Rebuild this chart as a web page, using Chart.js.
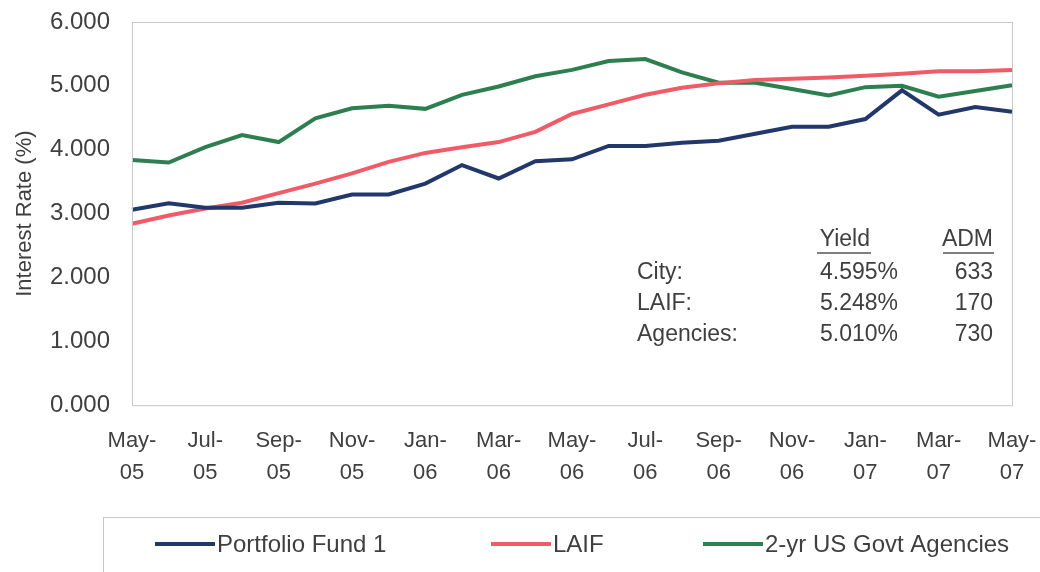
<!DOCTYPE html>
<html>
<head>
<meta charset="utf-8">
<script src="https://cdn.jsdelivr.net/npm/chart.js@4.4.1/dist/chart.umd.min.js"></script>
<style>
  html, body { margin: 0; padding: 0; background: #fff; }
  #wrap { width: 1040px; height: 572px; position: relative; }
</style>
</head>
<body>
<div id="wrap"><canvas id="myChart"></canvas></div>
<script>
const months = [
  "May-05", "Jun-05", "Jul-05", "Aug-05", "Sep-05", "Oct-05", "Nov-05", "Dec-05",
  "Jan-06", "Feb-06", "Mar-06", "Apr-06", "May-06", "Jun-06", "Jul-06", "Aug-06",
  "Sep-06", "Oct-06", "Nov-06", "Dec-06", "Jan-07", "Feb-07", "Mar-07", "Apr-07", "May-07",
];
const fundRates = [
  3.06, 3.16, 3.09, 3.09, 3.17, 3.16, 3.3, 3.3, 3.47, 3.76, 3.55, 3.82, 3.85,
  4.06, 4.06, 4.11, 4.14, 4.25, 4.36, 4.36, 4.48, 4.93, 4.55, 4.67, 4.595,
];
const laifRates = [
  2.84, 2.97, 3.08, 3.17, 3.32, 3.47, 3.63, 3.81, 3.95, 4.04, 4.12, 4.28, 4.56,
  4.71, 4.86, 4.97, 5.04, 5.09, 5.11, 5.13, 5.16, 5.19, 5.23, 5.23, 5.248,
];
const agencyRates = [
  3.84, 3.8, 4.04, 4.23, 4.12, 4.49, 4.65, 4.69, 4.64, 4.86, 4.99, 5.15, 5.25,
  5.39, 5.42, 5.21, 5.05, 5.05, 4.95, 4.85, 4.98, 5.0, 4.83, 4.92, 5.01,
];
const seriesNames = ["Portfolio Fund 1", "LAIF", "2-yr US Govt Agencies"];
const seriesColors = ["#22386b", "#ef5b66", "#2e7f50"];

const tableHead = ["Yield", "ADM"];
const tableNames = ["City:", "LAIF:", "Agencies:"];
const tableYields = ["4.595%", "5.248%", "5.010%"];
const tableAdm = ["633", "170", "730"];

const FONT = "'Liberation Sans', Arial, sans-serif";
const TEXT = "#3f3f3f";

// plot frame, yield table and the boxed legend underneath
const extras = {
  id: "extras",
  afterDraw(chart) {
    const { ctx, chartArea } = chart;
    ctx.save();
    ctx.strokeStyle = "#c8c8c8";
    ctx.lineWidth = 1;
    ctx.strokeRect(chartArea.left + 0.5, chartArea.top + 0.5,
      chartArea.right - chartArea.left, chartArea.bottom - chartArea.top);

    // yield table
    ctx.font = "23px " + FONT;
    ctx.fillStyle = TEXT;
    ctx.textBaseline = "middle";
    ctx.textAlign = "right";
    ctx.fillText(tableHead[0], 870, 240);
    ctx.fillText(tableHead[1], 993, 240);
    ctx.strokeStyle = "#555";
    ctx.lineWidth = 1.5;
    ctx.beginPath();
    ctx.moveTo(817, 253); ctx.lineTo(871, 253);
    ctx.moveTo(943, 253); ctx.lineTo(994, 253);
    ctx.stroke();
    tableNames.forEach((name, i) => {
      const y = 273 + i * 31;
      ctx.textAlign = "left";
      ctx.fillText(name, 637, y);
      ctx.textAlign = "right";
      ctx.fillText(tableYields[i], 898, y);
      ctx.fillText(tableAdm[i], 993, y);
    });

    // legend box
    ctx.strokeStyle = "#c8c8c8";
    ctx.lineWidth = 1;
    ctx.strokeRect(103.5, 517.5, 1000, 100);
    ctx.font = "24px " + FONT;
    const starts = [155, 491, 703];
    chart.data.datasets.forEach((ds, i) => {
      const x = starts[i];
      ctx.strokeStyle = ds.borderColor;
      ctx.lineWidth = 4;
      ctx.beginPath();
      ctx.moveTo(x, 544);
      ctx.lineTo(x + 60, 544);
      ctx.stroke();
      ctx.fillStyle = TEXT;
      ctx.textAlign = "left";
      ctx.fillText(ds.label, x + 62, 545);
    });
    ctx.restore();
  },
};

const ctx = document.getElementById("myChart").getContext("2d");
const myChart = new Chart(ctx, {
  type: "line",
  data: {
    labels: months,
    datasets: [fundRates, laifRates, agencyRates].map((data, i) => ({
      label: seriesNames[i],
      data: data,
      borderColor: seriesColors[i],
      backgroundColor: seriesColors[i],
      borderWidth: 4,
      pointRadius: 0,
      tension: 0,
    })),
  },
  options: {
    responsive: true,
    maintainAspectRatio: false,
    animation: false,
    layout: { padding: { left: 4, right: 0, top: 0, bottom: 63 } },
    plugins: {
      legend: { display: false },
      tooltip: { enabled: false },
    },
    scales: {
      x: {
        offset: false,
        grid: { display: false, drawTicks: false },
        border: { display: false },
        afterFit: (scale) => {
          scale.paddingLeft = 0;
          scale.paddingRight = 28;
        },
        ticks: {
          autoSkip: false,
          maxRotation: 0,
          padding: 20,
          color: TEXT,
          font: { family: FONT, size: 22, lineHeight: 1.45 },
          callback: (val, i) => {
            if (i % 2 !== 0) return "";
            const [m, y] = months[i].split("-");
            return [m + "-", y];
          },
        },
      },
      y: {
        min: 0,
        max: 6,
        grid: { display: false, drawTicks: false },
        border: { display: false },
        afterFit: (scale) => {
          scale.width = 128;
          scale.paddingTop = 22;
          scale.paddingBottom = 0;
        },
        ticks: {
          stepSize: 1,
          padding: 22,
          color: TEXT,
          font: { family: FONT, size: 24 },
          callback: (v) => v.toFixed(3),
        },
        title: {
          display: true,
          text: "Interest Rate (%)",
          color: TEXT,
          font: { family: FONT, size: 22 },
          padding: { top: 8, bottom: 12 },
        },
      },
    },
  },
  plugins: [extras],
});
</script>
</body>
</html>
